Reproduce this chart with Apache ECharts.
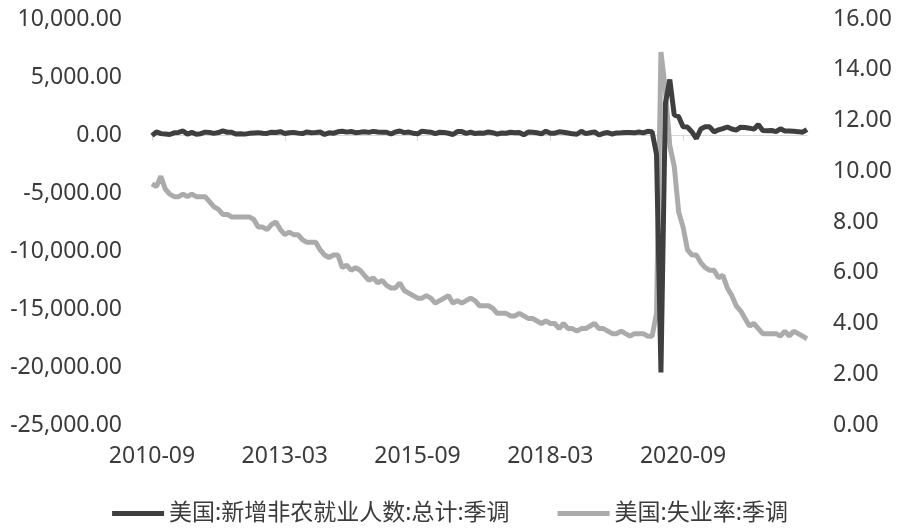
<!DOCTYPE html>
<html>
<head>
<meta charset="utf-8">
<script src="https://cdn.jsdelivr.net/npm/echarts@6/dist/echarts.min.js"></script>
<style>html,body{margin:0;padding:0;background:#fff}#c{width:900px;height:530px}</style>
</head>
<body>
<div id="c"></div>
<script>
// Monthly categories 2010-09 .. 2023-01
var startYear = 2010, startMonth = 9, monthCount = 149;
var categories = [];
for (var i = 0; i < monthCount; i++) {
  var m = startMonth - 1 + i;
  var y = startYear + Math.floor(m / 12);
  var mm = (m % 12) + 1;
  categories.push(y + '-' + (mm < 10 ? '0' + mm : mm));
}

var seriesNames = ['美国:新增非农就业人数:总计:季调', '美国:失业率:季调'];

// Nonfarm payroll change (thousands)
var payrolls = [
  -52, 262, 119, 87,
  43, 189, 225, 346, 77, 225, 69, 110, 248, 209, 141, 209,
  358, 237, 233, 78, 115, 76, 143, 177, 203, 146, 132, 244,
  211, 286, 130, 197, 226, 162, 122, 261, 190, 212, 258, 47,
  190, 151, 272, 329, 246, 304, 202, 230, 280, 227, 312, 255,
  234, 238, 86, 262, 344, 206, 254, 157, 100, 321, 272, 239,
  126, 237, 225, 153, 43, 297, 291, 135, 249, 124, 164, 155,
  259, 195, 73, 175, 155, 239, 190, 221, 18, 257, 231, 191,
  94, 328, 147, 155, 277, 235, 173, 100, 67, 325, 119, 194,
  269, 1, 147, 210, 85, 182, 194, 207, 208, 185, 261, 184,
  315, 289, -1683, -20471, 2725, 4781, 1726, 1583, 716, 680, 264, -306,
  520, 710, 704, 263, 447, 557, 689, 517, 424, 677, 647, 588,
  504, 904, 398, 368, 386, 293, 537, 352, 350, 324, 290, 239,
  472
];

// Unemployment rate (%)
var unemployment = [
  9.5, 9.4, 9.8, 9.3,
  9.1, 9.0, 9.0, 9.1, 9.0, 9.1, 9.0, 9.0, 9.0, 8.8, 8.6, 8.5,
  8.3, 8.3, 8.2, 8.2, 8.2, 8.2, 8.2, 8.1, 7.8, 7.8, 7.7, 7.9,
  8.0, 7.7, 7.5, 7.6, 7.5, 7.5, 7.3, 7.2, 7.2, 7.2, 6.9, 6.7,
  6.6, 6.7, 6.7, 6.2, 6.3, 6.1, 6.2, 6.1, 5.9, 5.7, 5.8, 5.6,
  5.7, 5.5, 5.4, 5.4, 5.6, 5.3, 5.2, 5.1, 5.0, 5.0, 5.1, 5.0,
  4.8, 4.9, 5.0, 5.1, 4.8, 4.9, 4.8, 4.9, 5.0, 4.9, 4.7, 4.7,
  4.7, 4.6, 4.4, 4.4, 4.4, 4.3, 4.3, 4.4, 4.3, 4.2, 4.2, 4.1,
  4.0, 4.1, 4.0, 4.0, 3.8, 4.0, 3.8, 3.8, 3.7, 3.8, 3.8, 3.9,
  4.0, 3.8, 3.8, 3.7, 3.6, 3.6, 3.7, 3.6, 3.5, 3.6, 3.6, 3.6,
  3.5, 3.5, 4.4, 14.7, 13.2, 11.0, 10.2, 8.4, 7.8, 6.9, 6.7, 6.7,
  6.4, 6.2, 6.1, 6.1, 5.8, 5.9, 5.4, 5.1, 4.7, 4.5, 4.2, 3.9,
  4.0, 3.8, 3.6, 3.6, 3.6, 3.6, 3.5, 3.7, 3.5, 3.7, 3.6, 3.5,
  3.4
];

var leftAxis = { min: -25000, max: 10000, interval: 5000 };
var rightAxis = { min: 0, max: 16, interval: 2 };

var FONT = "'Noto Sans', 'Noto Sans CJK SC', sans-serif";
var TEXT = '#3b3b3b';
var chart = echarts.init(document.getElementById('c'), null, { renderer: 'canvas' });
chart.setOption({
  animation: false,
  backgroundColor: '#fff',
  textStyle: { fontFamily: FONT },
  grid: { left: 152, right: 93, top: 19, bottom: 105, containLabel: false },
  legend: {
    top: 497, left: 'center',
    icon: 'rect', itemWidth: 52, itemHeight: 5, itemGap: 48,
    textStyle: { fontSize: 23, color: TEXT, fontFamily: FONT },
    data: seriesNames
  },
  xAxis: [{
    type: 'category', data: categories, boundaryGap: false,
    position: 'bottom',
    axisLine: { show: false, onZero: false },
    axisTick: { show: false },
    axisLabel: { interval: 29, fontSize: 23, color: TEXT, margin: 20, fontFamily: FONT },
    splitLine: { show: false }
  }, {
    type: 'category', data: categories, boundaryGap: false,
    position: 'bottom',
    axisLine: { show: true, onZero: true, onZeroAxisIndex: 0, lineStyle: { color: '#d9d9d9', width: 1 } },
    axisTick: { show: true, interval: 29, length: 6, lineStyle: { color: '#d9d9d9' } },
    axisLabel: { show: false },
    splitLine: { show: false }
  }],
  yAxis: [{
    type: 'value', min: leftAxis.min, max: leftAxis.max, interval: leftAxis.interval,
    axisLine: { show: false }, axisTick: { show: false }, splitLine: { show: false },
    axisLabel: {
      fontSize: 23, color: TEXT, margin: 30, fontFamily: FONT,
      formatter: function (v) { return v.toLocaleString('en-US', { minimumFractionDigits: 2, maximumFractionDigits: 2 }); }
    }
  }, {
    type: 'value', min: rightAxis.min, max: rightAxis.max, interval: rightAxis.interval,
    position: 'right',
    axisLine: { show: false }, axisTick: { show: false }, splitLine: { show: false },
    axisLabel: {
      fontSize: 23, color: TEXT, margin: 26, fontFamily: FONT,
      formatter: function (v) { return v.toFixed(2); }
    }
  }],
  series: [{
    name: seriesNames[0], type: 'line', data: payrolls,
    xAxisIndex: 0, yAxisIndex: 0, symbol: 'none', z: 4,
    lineStyle: { color: '#3f3f3f', width: 5 }, itemStyle: { color: '#3f3f3f' }
  }, {
    name: seriesNames[1], type: 'line', data: unemployment,
    xAxisIndex: 0, yAxisIndex: 1, symbol: 'none', z: 3,
    lineStyle: { color: '#ababab', width: 5 }, itemStyle: { color: '#ababab' }
  }]
});
</script>
</body>
</html>
